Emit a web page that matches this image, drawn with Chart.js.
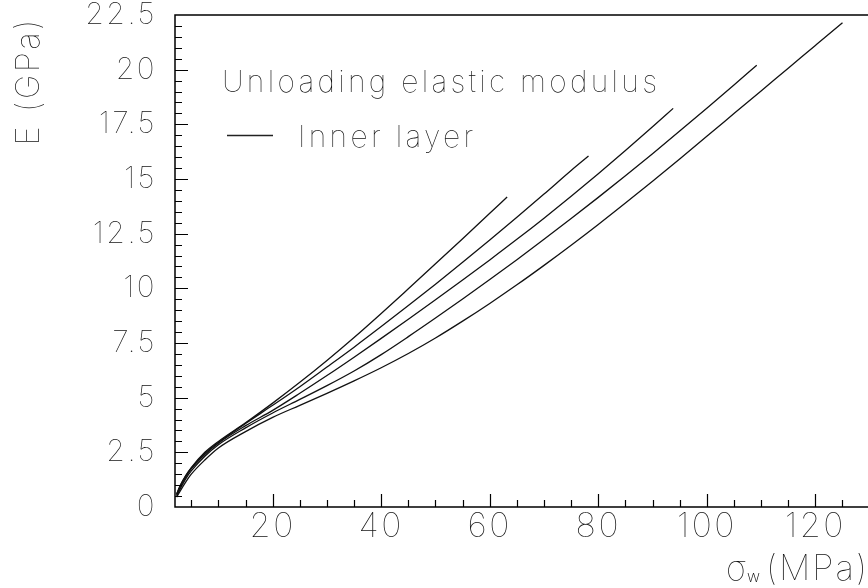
<!DOCTYPE html>
<html>
<head>
<meta charset="utf-8">
<script src="https://cdn.jsdelivr.net/npm/chart.js@4.4.1/dist/chart.umd.min.js"></script>
<style>
html,body{margin:0;padding:0;background:#fff;}
canvas{display:block;}
</style>
</head>
<body>
<canvas id="modChart" width="868" height="588"></canvas>
<script>
// sigma_w (MPa) and unloading modulus E (GPa), one pair per curve
const sigma1 = [2.3,3,4,5,7.5,10,15,20,25,30,35,40,45,50,55,60,63.2];
const mod1   = [0.6,1.0,1.45,1.8,2.5,3.0,3.85,4.75,5.7,6.7,7.75,8.85,9.98,11.12,12.27,13.43,14.18];

const sigma2 = [2.3,3,4,5,7.5,10,15,20,25,30,35,40,45,50,55,60,65,70,75,78.2];
const mod2   = [0.58,0.98,1.42,1.78,2.45,2.95,3.82,4.65,5.5,6.4,7.31,8.25,9.21,10.19,11.19,12.21,13.25,14.31,15.39,16.05];

const sigma3 = [2.3,3,4,5,7.5,10,15,20,25,30,35,40,45,50,55,60,65,70,75,80,85,90,93.8];
const mod3   = [0.55,0.93,1.38,1.74,2.4,2.92,3.72,4.42,5.2,6.01,6.85,7.71,8.59,9.48,10.38,11.3,12.24,13.21,14.21,15.24,16.3,17.39,18.23];

const sigma4 = [2.3,3,4,5,7.5,10,15,20,25,30,35,40,45,50,55,60,65,70,75,80,85,90,95,100,105,109.2];
const mod4   = [0.5,0.85,1.3,1.65,2.32,2.85,3.62,4.3,4.92,5.55,6.22,6.97,7.79,8.64,9.51,10.4,11.31,12.24,13.19,14.16,15.15,16.16,17.19,18.24,19.3,20.2];

const sigma5 = [2.3,3,4,5,7.5,10,15,20,25,30,35,40,45,50,55,60,65,70,75,80,85,90,95,100,105,110,115,120,125];
const mod5   = [0.45,0.75,1.15,1.5,2.15,2.7,3.45,4.1,4.65,5.2,5.77,6.37,7.02,7.73,8.5,9.31,10.16,11.05,11.97,12.92,13.9,14.9,15.92,16.95,17.99,19.03,20.07,21.11,22.15];

const xTicks = [20,40,60,80,100,120];
const yTicks = [0,2.5,5,7.5,10,12.5,15,17.5,20,22.5];

const legendTitle = "Unloading elastic modulus";
const legendLabel = "Inner layer";
const yTitle = "E (GPa)";

const FONT = "Inter, 'Noto Sans', 'DejaVu Sans', sans-serif";

function pts(xs, ys){
    return xs.map((v,i)=>({x:v, y:ys[i]}));
}

const curves = [[sigma1,mod1],[sigma2,mod2],[sigma3,mod3],[sigma4,mod4],[sigma5,mod5]];

const rootFrame = {
    id: "rootFrame",
    beforeDraw(chart){
        chart.ctx.letterSpacing = "2.5px";
    },
    afterDatasetsDraw(chart){
        const {ctx, chartArea:a, scales:{x,y}} = chart;
        ctx.save();
        ctx.strokeStyle = "#000";
        ctx.lineWidth = 1.5;
        ctx.beginPath();
        ctx.moveTo(a.right+2, a.top);
        ctx.lineTo(a.left, a.top);
        ctx.lineTo(a.left, a.bottom);
        ctx.lineTo(a.right+2, a.bottom);
        ctx.stroke();

        // tick marks drawn inside the frame, ROOT style
        ctx.lineWidth = 1.2;
        ctx.beginPath();
        for(let v=5; v<x.max; v+=5){
            if(v<=x.min) continue;
            const px = Math.round(x.getPixelForValue(v))+0.5;
            const len = v%20===0 ? 13 : 7;
            ctx.moveTo(px, a.bottom);
            ctx.lineTo(px, a.bottom-len);
        }
        for(let i=1; i*0.5<y.max; i++){
            const py = Math.round(y.getPixelForValue(i*0.5))+0.5;
            const len = i%5===0 ? 13 : 7;
            ctx.moveTo(a.left, py);
            ctx.lineTo(a.left+len, py);
        }
        ctx.stroke();

        ctx.fillStyle = "#111";
        ctx.letterSpacing = "2.5px";

        // y title
        ctx.save();
        ctx.translate(29, 17);
        ctx.rotate(-Math.PI/2);
        ctx.font = "100 33px " + FONT;
        ctx.textAlign = "right";
        ctx.textBaseline = "middle";
        ctx.fillText(yTitle, 0, 0);
        ctx.restore();

        // x title: sigma with subscript w
        ctx.textBaseline = "alphabetic";
        ctx.textAlign = "right";
        ctx.letterSpacing = "2px";
        ctx.font = "100 35px " + FONT;
        ctx.fillText("(MPa)", 869, 580);
        ctx.letterSpacing = "0px";
        ctx.font = "200 16px " + FONT;
        ctx.fillText("w", 760, 582);
        ctx.font = "100 34px " + FONT;
        ctx.fillText("\u03c3", 746, 580);

        // legend
        ctx.textAlign = "left";
        ctx.letterSpacing = "3.3px";
        ctx.font = "100 30px " + FONT;
        ctx.fillText(legendTitle, 222, 92);
        ctx.fillText(legendLabel, 298, 147);
        ctx.strokeStyle = "#222";
        ctx.lineWidth = 1.4;
        ctx.beginPath();
        ctx.moveTo(227, 135.5);
        ctx.lineTo(273, 135.5);
        ctx.stroke();
        ctx.restore();
    }
};

new Chart(document.getElementById("modChart"), {
    type: "scatter",
    data: {
        datasets: curves.map(([xs,ys]) => ({
            data: pts(xs, ys),
            showLine: true,
            borderColor: "#111",
            borderWidth: 1.3,
            pointRadius: 0,
            cubicInterpolationMode: "monotone",
            fill: false
        }))
    },
    options: {
        responsive: false,
        animation: false,
        devicePixelRatio: 1,
        layout: { padding: { top: 15, left: 0, right: 0, bottom: 0 } },
        plugins: { legend: { display: false }, tooltip: { enabled: false } },
        scales: {
            x: {
                type: "linear",
                min: 2, max: 129.7,
                grid: { display: false, drawTicks: false },
                border: { display: false },
                afterBuildTicks(s){ s.ticks = xTicks.map(v=>({value:v})); },
                afterFit(s){ s.height = 81; s.paddingLeft = 0; s.paddingRight = 0; },
                ticks: {
                    autoSkip: false, maxRotation: 0,
                    padding: 3,
                    color: "#111",
                    font: { family: FONT, size: 34, weight: 100, lineHeight: 1 }
                }
            },
            y: {
                type: "linear",
                min: 0, max: 22.5,
                grid: { display: false, drawTicks: false },
                border: { display: false },
                afterBuildTicks(s){ s.ticks = yTicks.map(v=>({value:v})); },
                afterFit(s){ s.width = 175; s.paddingTop = 0; s.paddingBottom = 0; },
                ticks: {
                    autoSkip: false,
                    padding: 18,
                    color: "#111",
                    font: { family: FONT, size: 30, weight: 100, lineHeight: 1 }
                }
            }
        }
    },
    plugins: [rootFrame]
});
</script>
</body>
</html>
